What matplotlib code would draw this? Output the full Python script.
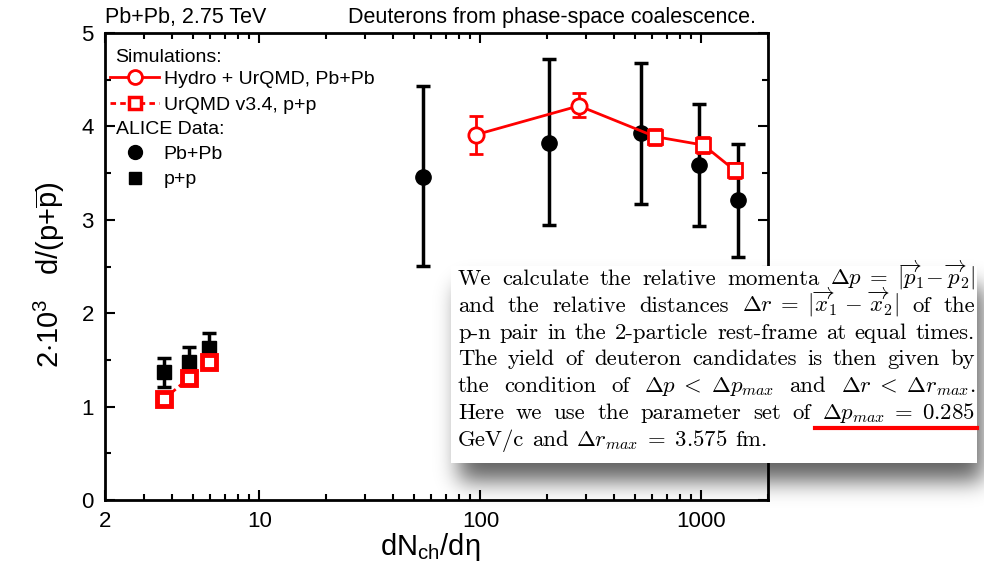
import matplotlib
matplotlib.use("Agg")
import matplotlib.pyplot as plt
from matplotlib.ticker import FixedLocator, NullFormatter, LogLocator
from matplotlib.patches import Rectangle
from matplotlib.lines import Line2D
import numpy as np

plt.rcParams['font.family'] = ['Liberation Sans', 'DejaVu Sans']
plt.rcParams['mathtext.fontset'] = 'custom'
plt.rcParams['mathtext.rm'] = 'Liberation Sans'
plt.rcParams['mathtext.it'] = 'Liberation Sans:italic'
plt.rcParams['mathtext.bf'] = 'Liberation Sans:bold'

# ---------------- data ----------------
# ALICE Pb+Pb (black circles)
alice_pb_x = [55, 204, 534, 970, 1459]
alice_pb_y = [3.46, 3.82, 3.93, 3.59, 3.21]
alice_pb_hi = [4.43, 4.72, 4.68, 4.24, 3.81]
alice_pb_lo = [2.51, 2.94, 3.17, 2.93, 2.60]

# ALICE p+p (black squares)
alice_pp_x = [3.70, 4.81, 5.93]
alice_pp_y = [1.37, 1.48, 1.63]
alice_pp_hi = [1.52, 1.64, 1.79]
alice_pp_lo = [1.21, 1.40, 1.55]

# Hydro + UrQMD Pb+Pb (red open markers)
hydro_x = [95, 279, 618, 1021, 1413]
hydro_y = [3.91, 4.22, 3.89, 3.80, 3.53]
hydro_hi = [4.11, 4.36, 3.97, 3.89, 3.61]
hydro_lo = [3.70, 4.10, 3.80, 3.72, 3.45]
hydro_marker = ['o', 'o', 's', 's', 's']

# UrQMD v3.4 p+p (red squares)
urqmd_x = [3.70, 4.81, 5.93]
urqmd_y = [1.08, 1.31, 1.48]
urqmd_hi = [1.12, 1.35, 1.52]
urqmd_lo = [1.04, 1.27, 1.44]

xticks = [2, 10, 100, 1000]
xticklabels = ['2', '10', '100', '1000']
yticks = [0, 1, 2, 3, 4, 5]

box_lines = [
    ["We", "calculate", "the", "relative", "momenta",
     r"$\Delta p\;=\;|\overrightarrow{p}_1\!-\overrightarrow{p}_2|$"],
    ["and", "the", "relative", "distances",
     r"$\Delta r\;=\;|\overrightarrow{x}_1\,-\,\overrightarrow{x}_2|$", "of", "the"],
    ["p-n", "pair", "in", "the", "2-particle", "rest-frame", "at", "equal", "times."],
    ["The", "yield", "of", "deuteron", "candidates", "is", "then", "given", "by"],
    ["the", "condition", "of", r"$\Delta p\;<\;\Delta p_{max}$", "and",
     r"$\Delta r\;<\;\Delta r_{max}.$"],
    ["Here", "we", "use", "the", "parameter", "set", "of", r"$\Delta p_{max}\;=\;0.285$"],
    ["GeV/c", "and", r"$\Delta r_{max}\;=\;3.575$", "fm."],
]

# ---------------- figure ----------------
W, H = 984, 565
fig = plt.figure(figsize=(W / 100, H / 100), dpi=100)
ax = fig.add_axes([105 / W, 1 - 500 / H, 663 / W, 467 / H])
ax.set_xscale('log')
ax.set_xlim(2, 2000)
ax.set_ylim(0, 5)

def asym(y, lo, hi):
    y = np.array(y); return [y - np.array(lo), np.array(hi) - y]

# black data
ax.errorbar(alice_pb_x, alice_pb_y, yerr=asym(alice_pb_y, alice_pb_lo, alice_pb_hi),
            fmt='o', color='black', ms=11, elinewidth=2.5, capsize=5, capthick=2.5, zorder=3)
ax.errorbar(alice_pp_x, alice_pp_y, yerr=asym(alice_pp_y, alice_pp_lo, alice_pp_hi),
            fmt='s', color='black', ms=10, elinewidth=2.5, capsize=5, capthick=2.5, zorder=3)

# red simulations
red = '#ff0000'
ax.plot(hydro_x, hydro_y, '-', color=red, lw=2, zorder=4)
for xi, yi, lo, hi, m in zip(hydro_x, hydro_y, hydro_lo, hydro_hi, hydro_marker):
    ax.errorbar([xi], [yi], yerr=[[yi - lo], [hi - yi]], fmt=m, color=red, mfc='white',
                mec=red, mew=2, ms=11 if m == 'o' else 10, elinewidth=2, capsize=5,
                capthick=2, zorder=5)
ax.plot(urqmd_x, urqmd_y, '--', color=red, lw=2, zorder=4, dashes=(2, 1.5))
ax.errorbar(urqmd_x, urqmd_y, yerr=asym(urqmd_y, urqmd_lo, urqmd_hi), fmt='s', color=red,
            mfc='white', mec=red, mew=3.5, ms=10, elinewidth=1.5, capsize=2.5, capthick=1.5,
            zorder=5, ls='none')

# ticks / spines
for s in ax.spines.values():
    s.set_linewidth(2)
ax.xaxis.set_major_locator(FixedLocator(xticks))
ax.set_xticklabels(xticklabels)
ax.xaxis.set_minor_locator(LogLocator(base=10, subs=np.arange(2, 10)))
ax.xaxis.set_minor_formatter(NullFormatter())
ax.yaxis.set_major_locator(FixedLocator(yticks))
ax.yaxis.set_minor_locator(FixedLocator(np.arange(0.5, 5, 1.0)))
ax.tick_params(which='both', direction='in', top=True, right=True, labelsize=16, width=1.5)
ax.tick_params(which='major', length=7, pad=8)
ax.tick_params(which='minor', length=4.5)

ax.set_xlabel(r'dN$_{\mathrm{ch}}$/d$\mathrm{\eta}$', fontsize=21, labelpad=-1)
ax.xaxis.label.set_x(0.49)
ax.set_ylabel(r'2$\cdot$10$^3$   d/(p+$\overline{\mathrm{p}}$)', fontsize=21, labelpad=10)
ax.yaxis.label.set_y(0.483)

# titles
fig.text(105 / W, 1 - 18 / H, 'Pb+Pb, 2.75 TeV', fontsize=15.5, ha='left', va='center')
fig.text(756 / W, 1 - 18 / H, 'Deuterons from phase-space coalescence.', fontsize=15.5,
         ha='right', va='center')

# legend
ax.text(0.016, 0.948, 'Simulations:', transform=ax.transAxes, fontsize=14, va='center')
ax.text(0.016, 0.793, 'ALICE Data:', transform=ax.transAxes, fontsize=14, va='center')
h_hydro = Line2D([], [], color=red, lw=2, marker='o', mfc='white', mec=red, mew=2, ms=10)
h_urqmd = Line2D([], [], color=red, lw=2, ls='--', dashes=(2, 1.5), marker='s', mfc='white',
                 mec=red, mew=2.5, ms=9)
leg1 = ax.legend([h_hydro, h_urqmd], ['Hydro + UrQMD, Pb+Pb', 'UrQMD v3.4, p+p'],
                 loc='upper left', bbox_to_anchor=(0.008, 0.920), frameon=False,
                 fontsize=14, handlelength=2.5, handletextpad=0.25, borderpad=0,
                 borderaxespad=0, labelspacing=0.42)
ax.add_artist(leg1)
h_pb = Line2D([], [], color='black', ls='none', marker='o', ms=10)
h_pp = Line2D([], [], color='black', ls='none', marker='s', ms=9)
ax.legend([h_pb, h_pp], ['Pb+Pb', 'p+p'], loc='upper left', bbox_to_anchor=(0.008, 0.760),
          frameon=False, fontsize=14, handlelength=2.5, handletextpad=0.25, borderpad=0,
          borderaxespad=0, labelspacing=0.42)

# ---------------- overlay text box ----------------
bx0, by0, bx1, by1 = 451, 266, 977, 463   # pixel box (top-left origin)

# soft shadow (gaussian-blurred offset rectangle)
mask = np.zeros((H, W))
sx0, sy0, sx1, sy1 = bx0 + 8, by0 + 20, bx1 + 6, by1 + 18
mask[sy0:sy1, sx0:sx1] = 1.0
sig = 11.0
kx = np.arange(-40, 41)
kern = np.exp(-kx ** 2 / (2 * sig ** 2)); kern /= kern.sum()
mask = np.apply_along_axis(lambda r: np.convolve(r, kern, mode='same'), 1, mask)
mask = np.apply_along_axis(lambda c: np.convolve(c, kern, mode='same'), 0, mask)
shadow = np.zeros((H, W, 4))
shadow[..., 3] = 0.62 * mask
fig.figimage(shadow, xo=0, yo=0, origin='upper', zorder=20)

def fr(x, y):
    return x / W, 1 - y / H
x0, y0 = fr(bx0, by1)
x1, y1 = fr(bx1, by0)
fig.add_artist(Rectangle((x0, y0), x1 - x0, y1 - y0, transform=fig.transFigure,
                         facecolor='white', edgecolor='none', zorder=21))

fig.canvas.draw()
renderer = fig.canvas.get_renderer()
tx0, tx1 = 458, 975
line_y0, dy = 285, 26.8

# choose font size so that the widest natural line fits the column
fs_probe = 10.0
nat = []
for toks in box_lines[:-1]:
    tot = 0
    for t in toks:
        tt = fig.text(0, 0, t, fontsize=fs_probe, family='cmr10', math_fontfamily='cm')
        tot += tt.get_window_extent(renderer).width
        tt.remove()
    tot += (len(toks) - 1) * 0.333 * fs_probe * 100 / 72
    nat.append(tot)
fs = 0.985 * fs_probe * (tx1 - tx0) / max(nat)

under_tok = None
for i, toks in enumerate(box_lines):
    yy = line_y0 + i * dy
    texts, widths = [], []
    for t in toks:
        tt = fig.text(0, 1 - yy / H, t, fontsize=fs, family='cmr10', math_fontfamily='cm',
                      va='baseline', ha='left', zorder=22)
        texts.append(tt)
        widths.append(tt.get_window_extent(renderer).width)
    if i < len(box_lines) - 1:
        gap = (tx1 - tx0 - sum(widths)) / (len(toks) - 1)
    else:
        gap = 0.333 * fs * 100 / 72
    x = tx0
    for tt, w in zip(texts, widths):
        tt.set_x(x / W)
        x += w + gap
    if i == 5:
        under_tok = texts[-1]

fig.canvas.draw()
bb = under_tok.get_window_extent(renderer)
ux0 = bb.x0 - 7
ux1 = bb.x1 + 2
uy = bb.y0 - 3
fig.add_artist(Line2D([ux0 / W, ux1 / W], [uy / H, uy / H], transform=fig.transFigure,
                      color=red, lw=3, zorder=23))

fig.savefig('out.png', dpi=100)
